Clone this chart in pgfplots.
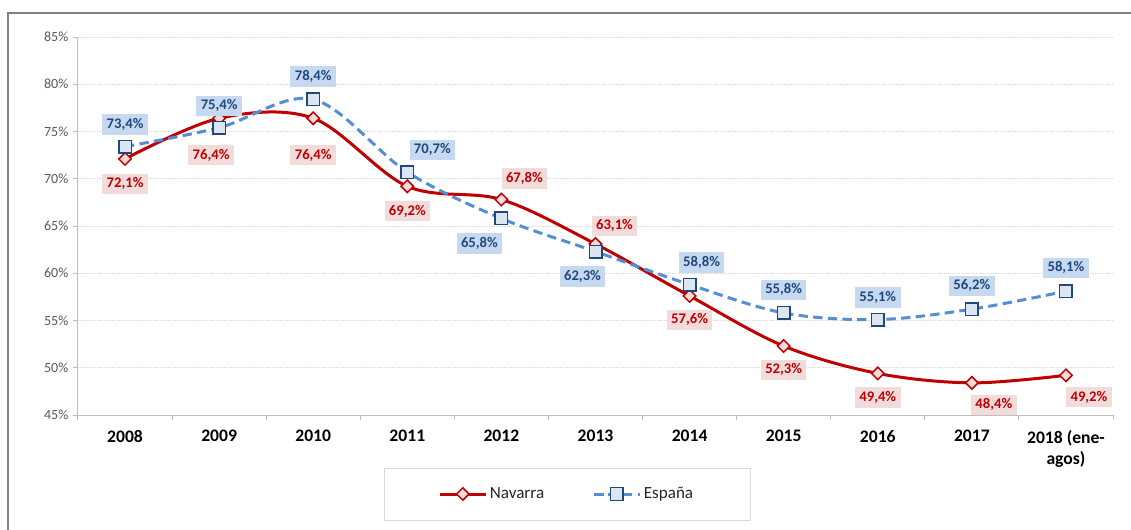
\documentclass[border=0pt]{standalone}
\usepackage{pgfplots}
\pgfplotsset{compat=1.18}
\usepackage{pgfplotstable}
\usepackage{fontspec}
\setmainfont{Carlito}
\definecolor{navred}{HTML}{C00000}
\definecolor{navfill}{HTML}{F2DCDB}
\definecolor{navlbl}{HTML}{F2DCDB}
\definecolor{espline}{HTML}{558ED5}
\definecolor{espedge}{HTML}{1F497D}
\definecolor{espfill}{HTML}{DCE6F2}
\definecolor{esplbl}{HTML}{C6D9F1}
\definecolor{ticktext}{HTML}{595959}
\definecolor{axgray}{HTML}{BFBFBF}
\definecolor{gridgray}{HTML}{D9D9D9}

\pgfplotstableread{
x y dx dy
0 72.1 0 -25
1 76.4 -8 -37
2 76.4 0 -37
3 69.2 0 -25
4 67.8 23 21
5 63.1 19 18
6 57.6 0 -24
7 52.3 0 -24
8 49.4 0 -24
9 48.4 22 -22
10 49.2 23 -22
}\navarra

\pgfplotstableread{
x y dx dy
0 73.4 0 22
1 75.4 0 22
2 78.4 0 23
3 70.7 25 22
4 65.8 -22 -25
5 62.3 -13 -25
6 58.8 12 22
7 55.8 0 23
8 55.1 0 22
9 56.2 0 23
10 58.1 0 23
}\espana

\begin{document}
\begin{tikzpicture}
\useasboundingbox (-58.5pt,-85.5pt) rectangle (789.75pt,311.25pt);
\fill[white] (-58.5pt,-85.5pt) rectangle (789.75pt,311.25pt);
\draw[color=gray, line width=1.1pt] (-52.5pt,-86pt) -- (-52.5pt,301.5pt) -- (790pt,301.5pt);
\draw[color=gridgray, line width=0.6pt] (229.5pt,-39.75pt) rectangle (504pt,-78.75pt);
\begin{axis}[
  at={(0pt,0pt)}, anchor=south west,
  scale only axis,
  width=776.25pt, height=283.5pt,
  xmin=-0.5, xmax=10.5,
  ymin=45, ymax=85,
  ytick={45,50,...,85},
  xtick={0,...,10},
  xticklabels={2008,2009,2010,2011,2012,2013,2014,2015,2016,2017,{2018 (ene-\\agos)}},
  xticklabel style={font=\bfseries\fontsize{13.2}{15.75}\selectfont, align=center, text=black, yshift=-4pt},
  yticklabel={\pgfmathprintnumber{\tick}\%},
  yticklabel style={font=\fontsize{10.5}{12}\selectfont, text=ticktext},
  /pgf/number format/assume math mode=true,
  axis x line*=bottom, axis y line*=left,
  axis line style={draw=axgray, line width=0.75pt},
  tick align=outside,
  major tick length=3.75pt,
  xtick style={draw=none},
  ytick style={draw=axgray, line width=0.75pt},
  extra x ticks={-0.5,0.5,...,10.5},
  extra x tick labels={},
  extra x tick style={xtick style={draw=axgray, line width=0.75pt}, major tick length=3.75pt},
  ymajorgrids,
  grid style={densely dotted, draw=gridgray, line width=0.75pt},
  clip=false,
  legend columns=2,
  legend style={at={(0.4725,-0.209)}, anchor=center, draw=none, fill=none,
    font=\fontsize{12.8}{14}\selectfont, text=black!85,
    /tikz/every even column/.append style={column sep=34pt}},
  legend image code/.code={\draw[mark repeat=2,mark phase=2,#1] plot coordinates {(0pt,0pt) (17.25pt,0pt) (34.5pt,0pt)};},
  every node near coord/.append style={anchor=center, xshift={\dx*0.75pt}, yshift={\dy*0.75pt},
    font=\bfseries\fontsize{11}{12}\selectfont, inner xsep=3.3pt, inner ysep=3pt,
    text height=7.4pt, text depth=1.8pt},
]
\addplot[color=navred, line width=2.25pt, smooth, tension=0.55,
  mark=square*, mark size=3.3pt,
  mark options={rotate=45, solid, fill=navfill, draw=navred, line width=1.1pt}]
  table[x=x, y=y] {\navarra};
\addlegendentry{Navarra}
\addplot[color=espline, line width=2.25pt, dash pattern=on 7pt off 4pt, smooth, tension=0.55,
  mark=square*, mark size=4.7pt,
  mark options={solid, fill=espfill, draw=espedge, line width=1.1pt}]
  table[x=x, y=y] {\espana};
\addlegendentry{España}
\addplot[draw=none, mark=none, forget plot,
  visualization depends on={\thisrow{dx}\as\dx},
  visualization depends on={\thisrow{dy}\as\dy},
  point meta=\thisrow{y},
  nodes near coords={\pgfmathprintnumber[fixed,fixed zerofill,precision=1,use comma,assume math mode=true]{\pgfplotspointmeta}\%},
  every node near coord/.append style={fill=navlbl, text=navred}]
  table[x=x, y=y] {\navarra};
\addplot[draw=none, mark=none, forget plot,
  visualization depends on={\thisrow{dx}\as\dx},
  visualization depends on={\thisrow{dy}\as\dy},
  point meta=\thisrow{y},
  nodes near coords={\pgfmathprintnumber[fixed,fixed zerofill,precision=1,use comma,assume math mode=true]{\pgfplotspointmeta}\%},
  every node near coord/.append style={fill=esplbl, text=espedge}]
  table[x=x, y=y] {\espana};
\end{axis}
\end{tikzpicture}
\end{document}
